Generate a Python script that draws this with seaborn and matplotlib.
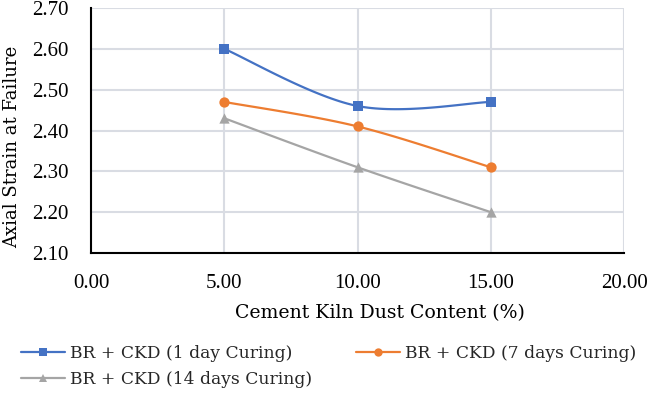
import numpy as np
import pandas as pd
import matplotlib
matplotlib.use("Agg")
import matplotlib.pyplot as plt
from matplotlib.lines import Line2D
import seaborn as sns

# Data
ckd_content = [5.0, 10.0, 15.0]
strain_1day = [2.60, 2.46, 2.47]
strain_7days = [2.47, 2.41, 2.31]
strain_14days = [2.43, 2.31, 2.20]
series_names = ["BR + CKD (1 day Curing)", "BR + CKD (7 days Curing)",
                "BR + CKD (14 days Curing)"]
x_ticks = [0, 5, 10, 15, 20]
y_ticks = [2.10, 2.20, 2.30, 2.40, 2.50, 2.60, 2.70]

colors = ["#4472C4", "#ED7D31", "#A5A5A5"]
markers = ["s", "o", "^"]


# Excel-like smoothed line (bezier through the points)
def smooth(xs, ys, n=40):
    p = np.column_stack([xs, ys])
    out = []
    for i in range(len(p) - 1):
        p0 = p[i - 1] if i > 0 else p[i]
        p1, p2 = p[i], p[i + 1]
        p3 = p[i + 2] if i + 2 < len(p) else p[i + 1]
        c1 = p1 + (p2 - p0) / 6
        c2 = p2 - (p3 - p1) / 6
        t = np.linspace(0, 1, n)[:, None]
        seg = ((1 - t) ** 3) * p1 + 3 * ((1 - t) ** 2) * t * c1 \
            + 3 * (1 - t) * t ** 2 * c2 + t ** 3 * p2
        out.append(seg if i == 0 else seg[1:])
    seg = np.vstack(out)
    return seg[:, 0], seg[:, 1]


sns.set_theme(style="white")
plt.rcParams['font.family'] = ['DejaVu Serif']
tick_font = dict(family='Liberation Serif', size=15)

fig = plt.figure(figsize=(6.5, 3.94), dpi=100)
ax = fig.add_axes([91 / 650, 1 - 253 / 394, 533 / 650, 245 / 394])

all_series = [strain_1day, strain_7days, strain_14days]
for name, ys, c, m in zip(series_names, all_series, colors, markers):
    sx, sy = smooth(ckd_content, ys)
    curve = pd.DataFrame({"x": sx, "y": sy})
    sns.lineplot(data=curve, x="x", y="y", ax=ax, color=c, linewidth=1.6,
                 sort=False, estimator=None)
    pts = pd.DataFrame({"x": ckd_content, "y": ys})
    sns.scatterplot(data=pts, x="x", y="y", ax=ax, color=c, marker=m,
                    s=55, edgecolor=c, linewidth=0, zorder=3)

ax.set_xlim(0, 20)
ax.set_ylim(2.10, 2.70)
ax.set_xticks(x_ticks)
ax.set_yticks(y_ticks)
ax.set_xticklabels([f"{v:.2f}" for v in x_ticks], fontdict=tick_font)
ax.set_yticklabels([f"{v:.2f}" for v in y_ticks], fontdict=tick_font)
ax.tick_params(axis="both", length=0, colors="black")
ax.tick_params(axis="x", pad=15)
ax.tick_params(axis="y", pad=16)

ax.grid(True, color="#D9DCE3", linewidth=1.5)
ax.set_axisbelow(True)
for side in ["top", "right"]:
    ax.spines[side].set_visible(False)
for side in ["left", "bottom"]:
    ax.spines[side].set_color("black")
    ax.spines[side].set_linewidth(1.5)

ax.set_xlabel("Cement Kiln Dust Content (%)", fontsize=13.6, color="black")
ax.xaxis.set_label_coords(0.542, -0.208)
ax.set_ylabel("Axial Strain at Failure", fontsize=13, color="black")
ax.yaxis.set_label_coords(-0.131, 0.433)

handles = [Line2D([], [], color=c, marker=m, markersize=6, linewidth=1.6,
                  markeredgewidth=0) for c, m in zip(colors, markers)]
order = [0, 2, 1]
fig.legend([handles[i] for i in order], [series_names[i] for i in order],
           loc="upper left", bbox_to_anchor=(21 / 650, 1 - 345 / 394),
           ncol=2, frameon=False, fontsize=12.3, handlelength=2.55,
           handletextpad=0.3, columnspacing=2.6, labelspacing=0.55,
           borderpad=0, borderaxespad=0)

fig.savefig("out.png", dpi=100)
